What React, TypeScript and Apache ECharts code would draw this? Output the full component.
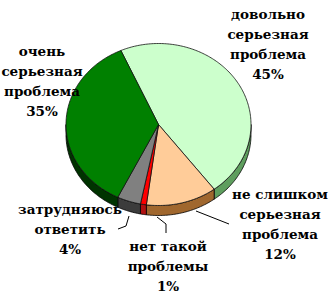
import React, { useEffect, useRef } from "react";
import * as echarts from "echarts";

const categories = [
  "довольно\nсерьезная\nпроблема",
  "не слишком\nсерьезная\nпроблема",
  "нет такой\nпроблемы",
  "затрудняюсь\nответить",
  "очень\nсерьезная\nпроблема",
];
const values = [45, 12, 1, 4, 35];
const percentLabels = ["45%", "12%", "1%", "4%", "35%"];

const topColors = ["#CCFFCC", "#FFCC99", "#FF0000", "#808080", "#008000"];
const sideColors = ["#5E9E5E", "#A0672E", "#B01010", "#3C3C3C", "#003300"];
// label block positions [centerX, topY]
const labelPos: [number, number][] = [
  [268, 4],
  [280, 184],
  [168, 236],
  [70, 199],
  [42, 41],
];
const leaders: [number, number][][] = [
  [],
  [[196, 211], [229, 224]],
  [[157, 217], [166, 224], [166, 233]],
  [[129, 216], [126, 226], [118, 229]],
  [],
];

const CX = 158.5, CY = 124.5, RX = 92.5, RY = 81, DEPTH = 10, START = -24;

function pt(deg: number, dy = 0): number[] {
  const r = (deg * Math.PI) / 180;
  return [CX + RX * Math.sin(r), CY - RY * Math.cos(r) + dy];
}
function arc(a: number, b: number, dy = 0): number[][] {
  const pts: number[][] = [];
  const n = Math.max(2, Math.ceil(Math.abs(b - a)));
  for (let i = 0; i <= n; i++) pts.push(pt(a + ((b - a) * i) / n, dy));
  return pts;
}

export default function App() {
  const ref = useRef<HTMLDivElement>(null);
  useEffect(() => {
    if (!ref.current) return;
    const chart = echarts.init(ref.current, undefined, { renderer: "svg" });
    const total = values.reduce((s, v) => s + v, 0);
    const starts: number[] = [];
    let acc = START;
    values.forEach((v) => {
      starts.push(acc);
      acc += (v / total) * 360;
    });

    const titles = categories.map((c, i) => ({
      text: c + "\n" + percentLabels[i],
      left: labelPos[i][0],
      top: labelPos[i][1],
      textAlign: "center",
      padding: 0,
      textStyle: {
        fontFamily: "DejaVu Serif",
        fontWeight: "bold",
        fontSize: 13.5,
        lineHeight: 20,
        color: "#000",
        align: "center",
      },
    }));

    const graphics: any[] = [];
    leaders.forEach((l) => {
      if (l.length) {
        graphics.push({
          type: "polyline",
          shape: { points: l },
          style: { stroke: "#000", lineWidth: 1, fill: null },
        });
      }
    });

    chart.setOption({
      animation: false,
      backgroundColor: "#fff",
      title: titles,
      series: [
        {
          type: "custom",
          coordinateSystem: "none",
          data: values.map((v, i) => [v, i]),
          renderItem: (params: any, api: any) => {
            const i = params.dataIndex;
            const v = api.value(0);
            const a0 = starts[i];
            const a1 = a0 + (v / total) * 360;
            const children: any[] = [];
            const s = Math.max(a0, 90), e = Math.min(a1, 270);
            if (e > s) {
              const top = arc(s, e);
              const bottom = arc(e, s, DEPTH);
              children.push({
                type: "polygon",
                shape: { points: top.concat(bottom) },
                style: { fill: sideColors[i], stroke: "#000", lineWidth: 0.8 },
              });
            }
            children.push({
              type: "polygon",
              shape: { points: [[CX, CY]].concat(arc(a0, a1)) },
              style: { fill: topColors[i], stroke: "#111", lineWidth: 0.8 },
            });
            return { type: "group", children };
          },
        },
      ],
      graphic: graphics,
    });
    return () => chart.dispose();
  }, []);
  return (
    <div
      ref={ref}
      style={{ position: "absolute", left: 0, top: 0, width: 330, height: 296 }}
    />
  );
}
